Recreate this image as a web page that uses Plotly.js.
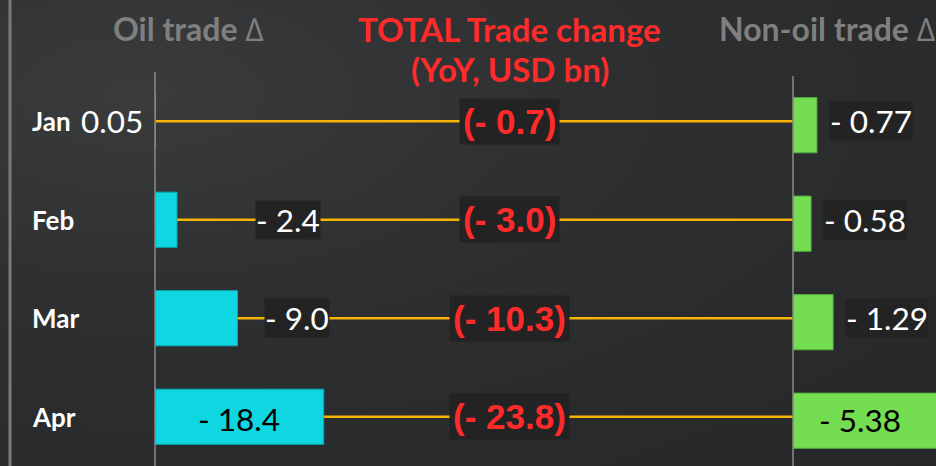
<!DOCTYPE html>
<html>
<head>
<meta charset="utf-8">
<script src="https://cdn.plot.ly/plotly-3.0.1.min.js"></script>
<style>
  html, body { margin: 0; padding: 0; background: #2b2c2e; }
  #chart { width: 936px; height: 466px;
    background: radial-gradient(ellipse at 15% 20%, #3a3b3d 0%, #2e2f31 40%, #262729 100%); }
</style>
</head>
<body>
<div id="chart"></div>
<script>
// ---- data ----
const months = ['Jan', 'Feb', 'Mar', 'Apr'];
const oilTrade = [0.05, -2.4, -9.0, -18.4];
const oilDecimals = [2, 1, 1, 1];
const nonOilTrade = [-0.77, -0.58, -1.29, -5.38];
const totalTrade = [-0.7, -3.0, -10.3, -23.8];

// ---- layout constants (positions/styles, not data) ----
const W = 936, H = 466, TOP = 72;
const PLOT_H = H - TOP;
const OIL_LEFT = 155, AXIS2_LEFT = 793;
const OIL_PX_PER_UNIT = 9.17, NONOIL_PX_PER_UNIT = 31.1;
const OIL_MAX = (AXIS2_LEFT - OIL_LEFT) / OIL_PX_PER_UNIT;
const NONOIL_MAX = (W - AXIS2_LEFT) / NONOIL_PX_PER_UNIT;
const oilLabelShift = [-10, 78, 26, 0];     // px offset of outside labels
const oilLabelSide = ['left', 'right', 'right', 'inside'];
const nonOilLabelInside = [false, false, false, true];

const CYAN = '#0fd7e1', GREEN = '#74dd52', GOLD = '#f5b400', RED = '#ff2b2b';
const LABEL_BG = '#232323';
const VAL_SIZE = 31.5;

function fmt(v, d) {
  return (v < 0 ? '- ' : '') + Math.abs(v).toFixed(d);
}
function py(pixelY) { return 1 + (TOP - pixelY) / PLOT_H; }

// gold connector lines (from oil bar end to the non-oil axis)
const lx = [], ly = [];
months.forEach((m, i) => { lx.push(Math.abs(oilTrade[i]), OIL_MAX, null); ly.push(m, m, null); });

const traces = [
  { type: 'bar', orientation: 'h', y: months, x: oilTrade.map(Math.abs),
    xaxis: 'x', yaxis: 'y', width: 0.56,
    marker: { color: CYAN, line: { color: '#0aa9b3', width: 1 } },
    hoverinfo: 'skip', showlegend: false },
  { type: 'bar', orientation: 'h', y: months, x: nonOilTrade.map(Math.abs),
    xaxis: 'x2', yaxis: 'y', width: 0.56, offset: -0.24,
    marker: { color: GREEN, line: { color: '#56b03e', width: 1 } },
    hoverinfo: 'skip', showlegend: false },
  { type: 'scatter', mode: 'lines', x: lx, y: ly, xaxis: 'x', yaxis: 'y',
    line: { color: GOLD, width: 2.6 }, hoverinfo: 'skip', showlegend: false, connectgaps: false }
];

const ann = [];
const lato = 'Lato, "Open Sans", sans-serif';
// headers
ann.push({ xref: 'paper', yref: 'paper', x: 188 / W, y: py(29), yanchor: 'middle', xanchor: 'center',
  text: '<b>Oil trade </b>∆', showarrow: false, font: { family: lato, size: 32, color: '#7f7f7f' } });
ann.push({ xref: 'paper', yref: 'paper', x: 827 / W, y: py(29), yanchor: 'middle', xanchor: 'center',
  text: '<b>Non-oil trade </b>∆', showarrow: false, font: { family: lato, size: 32, color: '#7f7f7f' } });
ann.push({ xref: 'paper', yref: 'paper', x: 510 / W, y: py(29), yanchor: 'middle', xanchor: 'center',
  text: '<b>TOTAL Trade change</b>', showarrow: false, font: { family: lato, size: 33, color: RED } });
ann.push({ xref: 'paper', yref: 'paper', x: 510 / W, y: py(69), yanchor: 'middle', xanchor: 'center',
  text: '<b>(YoY, USD bn)</b>', showarrow: false, font: { family: lato, size: 33, color: RED } });

months.forEach((m, i) => {
  // month label
  ann.push({ xref: 'paper', yref: 'y', x: 30 / W, y: m, xanchor: 'left', yanchor: 'middle',
    text: '<b>' + m + '</b>', showarrow: false, font: { family: lato, size: 26, color: '#ffffff' } });
  // oil label
  const ot = fmt(oilTrade[i], oilDecimals[i]);
  const side = oilLabelSide[i];
  if (side === 'inside') {
    ann.push({ xref: 'x', yref: 'y', x: Math.abs(oilTrade[i]) / 2, y: m, xanchor: 'center', yanchor: 'middle',
      yshift: -2, text: ot, showarrow: false, font: { family: lato, size: VAL_SIZE, color: '#000000' } });
  } else if (side === 'left') {
    ann.push({ xref: 'x', yref: 'y', x: 0, y: m, xanchor: 'right', yanchor: 'middle', xshift: oilLabelShift[i],
      text: ot, showarrow: false, font: { family: lato, size: VAL_SIZE, color: '#ffffff' } });
  } else {
    ann.push({ xref: 'x', yref: 'y', x: Math.abs(oilTrade[i]), y: m, xanchor: 'left', yanchor: 'middle',
      xshift: oilLabelShift[i], text: ot, showarrow: false, bgcolor: LABEL_BG, borderpad: 0,
      font: { family: lato, size: VAL_SIZE, color: '#ffffff' } });
  }
  // total label
  ann.push({ xref: 'paper', yref: 'y', x: 510 / W, y: m, xanchor: 'center', yanchor: 'middle',
    text: '<b>(' + fmt(totalTrade[i], 1) + ')</b>', showarrow: false, bgcolor: LABEL_BG, borderpad: 3,
    font: { family: '"Liberation Sans", Arial, sans-serif', size: 35, color: RED } });
  // non-oil label
  const nt = fmt(nonOilTrade[i], 2);
  if (nonOilLabelInside[i]) {
    ann.push({ xref: 'x2 domain', yref: 'y', x: 0.47, y: m, xanchor: 'center', yanchor: 'middle', yshift: -3,
      text: nt, showarrow: false, font: { family: lato, size: VAL_SIZE, color: '#000000' } });
  } else {
    ann.push({ xref: 'x2', yref: 'y', x: Math.abs(nonOilTrade[i]), y: m, xanchor: 'left', yanchor: 'middle',
      xshift: 12, yshift: 0, text: nt, showarrow: false, bgcolor: LABEL_BG, borderpad: 0,
      font: { family: lato, size: VAL_SIZE, color: '#ffffff' } });
  }
});

const shapes = [
  { type: 'line', xref: 'paper', yref: 'paper', x0: 10 / W, x1: 10 / W, y0: -0.2, y1: 1.3,
    line: { color: '#7a7a7a', width: 3 } },
  { type: 'line', xref: 'x domain', yref: 'paper', x0: 0, x1: 0, y0: 0, y1: 1,
    line: { color: '#8a8a8a', width: 1.5 } },
  { type: 'line', xref: 'x2 domain', yref: 'paper', x0: 0, x1: 0, y0: 0, y1: 0.99,
    line: { color: '#8a8a8a', width: 1.5 } }
];

const hidden = { showgrid: false, zeroline: false, showticklabels: false, ticks: '', showline: false, fixedrange: true };

const layout = {
  width: W, height: H,
  margin: { l: 0, r: 0, t: TOP, b: 0, pad: 0 },
  paper_bgcolor: 'rgba(0,0,0,0)', plot_bgcolor: 'rgba(0,0,0,0)',
  showlegend: false,
  barmode: 'overlay',
  xaxis: Object.assign({ domain: [OIL_LEFT / W, AXIS2_LEFT / W], range: [0, OIL_MAX], anchor: 'y' }, hidden),
  xaxis2: Object.assign({ domain: [AXIS2_LEFT / W, 1], range: [0, NONOIL_MAX], anchor: 'y' }, hidden),
  yaxis: Object.assign({ type: 'category', categoryorder: 'array', categoryarray: months,
    range: [3.5, -0.5] }, hidden),
  annotations: ann,
  shapes: shapes
};

Plotly.newPlot('chart', traces, layout, { displayModeBar: false, staticPlot: true });
</script>
</body>
</html>
